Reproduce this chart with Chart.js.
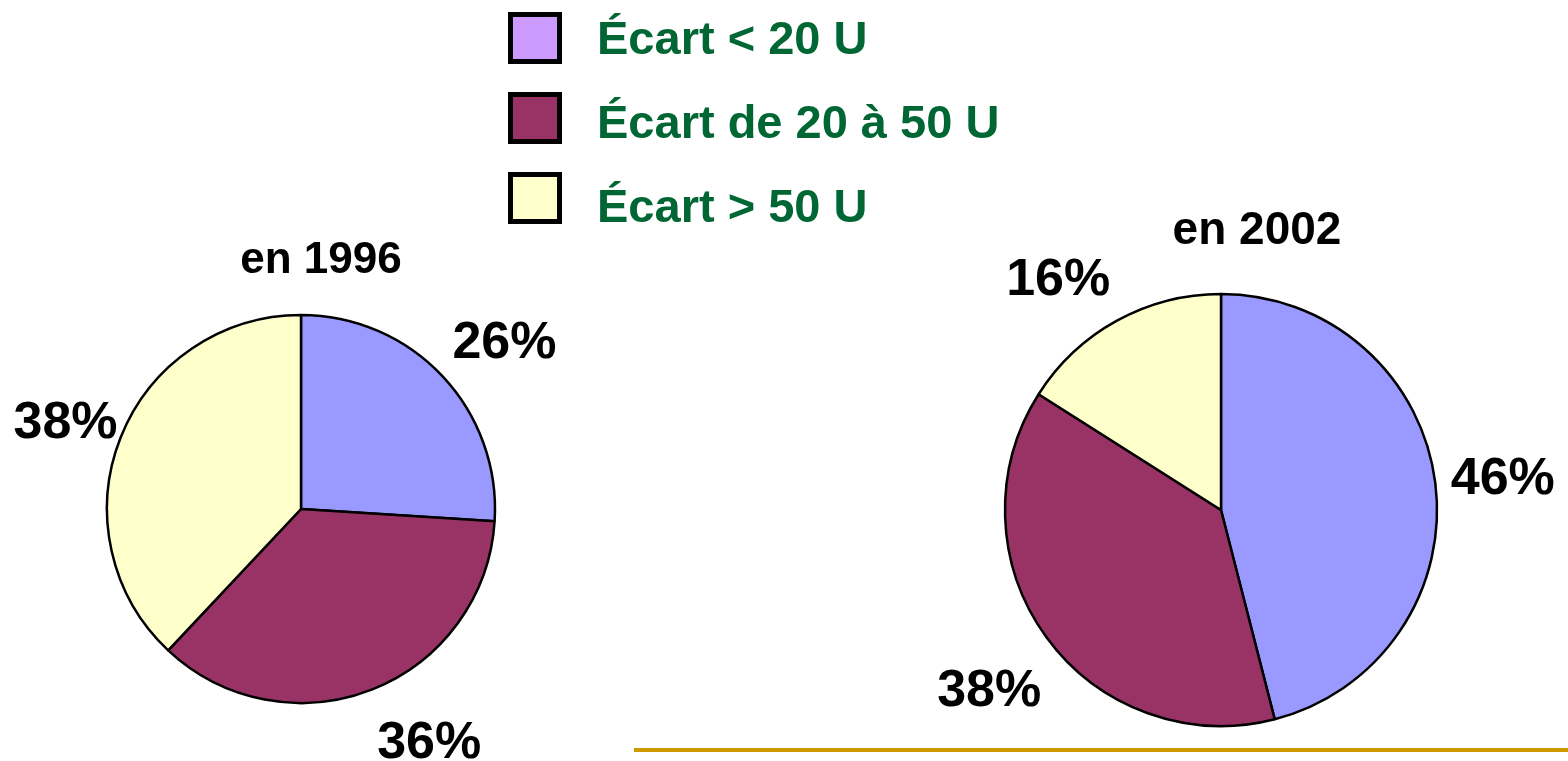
<!DOCTYPE html>
<html lang="fr">
<head>
<meta charset="utf-8">
<script src="https://cdn.jsdelivr.net/npm/chart.js@4.4.1/dist/chart.umd.min.js"></script>
<style>
  html, body { margin: 0; padding: 0; background: #ffffff; }
  body { width: 1568px; height: 761px; position: relative; overflow: hidden; font-family: "Liberation Sans", Arial, sans-serif; }
  canvas { position: absolute; left: 0; top: 0; }
  .sw { position: absolute; box-sizing: border-box; width: 54px; height: 52px; border: 5px solid #000; }
  .lt { position: absolute; font-weight: bold; font-size: 47px; line-height: 47px; color: #006633; white-space: nowrap; }
  .ttl { position: absolute; font-weight: bold; color: #000; text-align: center; white-space: nowrap; width: 300px; }
  #rule { position: absolute; left: 634px; top: 748px; width: 934px; height: 4px; background: #CC9900; }
</style>
</head>
<body>
<canvas id="c1996" width="1568" height="761"></canvas>
<canvas id="c2002" width="1568" height="761"></canvas>
<div id="legend"></div>
<div class="ttl" id="t1996" style="left:171px; top:236px; font-size:44px; line-height:44px;"></div>
<div class="ttl" id="t2002" style="left:1107px; top:205px; font-size:46px; line-height:46px;"></div>
<div id="rule"></div>
<script>
// ---- data ----
const categories = ["Écart < 20 U", "Écart de 20 à 50 U", "Écart > 50 U"];
const values1996 = [26, 36, 38];
const values2002 = [46, 38, 16];
const chartTitles = ["en 1996", "en 2002"];

// ---- styles ----
const sliceColors = ["#9999FF", "#993366", "#FFFFCC"];
const legendColors = ["#CC99FF", "#993366", "#FFFFCC"];
const labelFont = 'bold 52px "Liberation Sans", Arial, sans-serif';

// legend (HTML)
const legendEl = document.getElementById('legend');
categories.forEach((name, i) => {
  const sw = document.createElement('div');
  sw.className = 'sw';
  sw.style.left = '508px';
  sw.style.top = (12 + i * 80) + 'px';
  sw.style.background = legendColors[i];
  legendEl.appendChild(sw);
  const t = document.createElement('div');
  t.className = 'lt';
  t.style.left = '597px';
  t.style.top = (14 + i * 84) + 'px';
  t.textContent = name;
  legendEl.appendChild(t);
});
document.getElementById('t1996').textContent = chartTitles[0];
document.getElementById('t2002').textContent = chartTitles[1];

// percent label plugin
const pctLabels = {
  id: 'pctLabels',
  afterDatasetsDraw(chart, args, opts) {
    const ctx = chart.ctx;
    const meta = chart.getDatasetMeta(0);
    const data = chart.data.datasets[0].data;
    const total = data.reduce((a, b) => a + b, 0);
    ctx.save();
    ctx.font = labelFont;
    ctx.fillStyle = '#000';
    ctx.textAlign = 'center';
    ctx.textBaseline = 'alphabetic';
    meta.data.forEach((arc, i) => {
      const p = arc.getProps(['x', 'y', 'startAngle', 'endAngle', 'outerRadius'], true);
      const mid = (p.startAngle + p.endAngle) / 2;
      const d = p.outerRadius + opts.gap;
      const nx = opts.nudges[i][0], ny = opts.nudges[i][1];
      const x = p.x + Math.cos(mid) * d + nx;
      const y = p.y + Math.sin(mid) * d + ny + 18;
      ctx.fillText(Math.round(data[i] / total * 100) + '%', x, y);
    });
    ctx.restore();
  }
};

function makePie(id, values, radius, padding, gap, nudges) {
  return new Chart(document.getElementById(id), {
    type: 'pie',
    data: {
      labels: categories,
      datasets: [{
        data: values,
        backgroundColor: sliceColors,
        borderColor: '#000000',
        borderWidth: 2.5
      }]
    },
    options: {
      responsive: false,
      animation: false,
      devicePixelRatio: 1,
      radius: radius,
      layout: { padding: padding },
      events: [],
      plugins: {
        legend: { display: false },
        tooltip: { enabled: false },
        title: { display: false },
        pctLabels: { gap: gap, nudges: nudges }
      }
    },
    plugins: [pctLabels]
  });
}

makePie('c1996', values1996, 194, { left: 0, right: 966, top: 257, bottom: 0 }, 70,
  [[11, 12], [31, -14], [10, 8]]);
makePie('c2002', values2002, 216, { left: 874, right: 0, top: 259, bottom: 0 }, 68,
  [[0, 2], [-2, 11], [-26, 16]]);
</script>
</body>
</html>
